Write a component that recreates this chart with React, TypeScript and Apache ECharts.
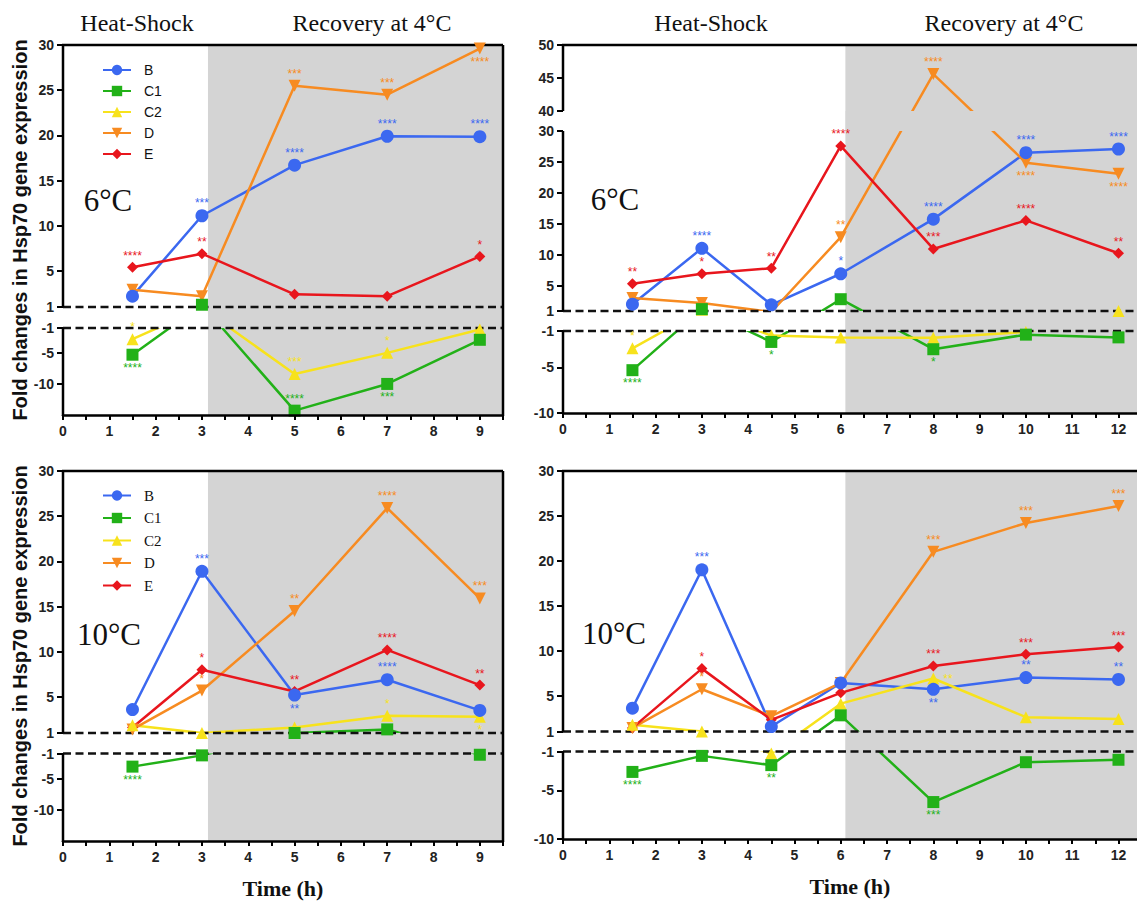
import React, { useEffect, useRef } from 'react';
import * as echarts from 'echarts';

// ---------------- data ----------------
const seriesNames = ['B', 'C1', 'C2', 'D', 'E'];
const colors: Record<string, string> = { B: '#3b68f0', C1: '#22b118', C2: '#f7e21c', D: '#f78b21', E: '#e8161d' };
const symbols: Record<string, string> = { B: 'circle', C1: 'rect', C2: 'triangle', D: 'triangle', E: 'diamond' };
const rotations: Record<string, number> = { B: 0, C1: 0, C2: 0, D: 180, E: 0 };
const symSizes: Record<string, number> = { B: 13, C1: 12, C2: 12, D: 12, E: 11 };

const timesA = [1.5, 3, 5, 7, 9];
const timesB = [1.5, 3, 4.5, 6, 8, 10, 12];

const xLabelsA = [0, 1, 2, 3, 4, 5, 6, 7, 8, 9];
const xTicksA = [0, 0.5, 1, 1.5, 2, 2.5, 3, 3.5, 4, 4.5, 5, 5.5, 6, 6.5, 7, 7.5, 8, 8.5, 9, 9.5];
const xLabelsB = [0, 1, 2, 3, 4, 5, 6, 7, 8, 9, 10, 11, 12];
const xTicksB = [0, 0.5, 1, 1.5, 2, 2.5, 3, 3.5, 4, 4.5, 5, 5.5, 6, 6.5, 7, 7.5, 8, 8.5, 9, 9.5, 10, 10.5, 11, 11.5, 12];

const yTicksA = [-10, -5, -1, 1, 5, 10, 15, 20, 25, 30];
const yTicksTR = [-10, -5, -1, 1, 5, 10, 15, 20, 25, 30, 40, 45, 50];

// 6°C, heat shock 3 h
const tlB = [2.2, 11.1, 16.7, 19.9, 19.85];
const tlC1 = [-5.3, 1.25, -14.3, -10.0, -2.9];
const tlC2 = [-2.8, 0.9, -8.4, -5.0, -1.25];
const tlD = [2.9, 2.2, 25.5, 24.5, 29.6];
const tlE = [5.4, 6.9, 2.4, 2.2, 6.6];
const tlStarsB = ['', '***', '****', '****', '****'];
const tlStarsC1 = ['v****', '', '****', 'v***', ''];
const tlStarsC2 = ['*', '', '***', '*', ''];
const tlStarsD = ['', '', '***', '***', 'v****'];
const tlStarsE = ['****', '**', '', '', '*'];

// 6°C, heat shock 6 h
const trB = [2.1, 11.1, 2.0, 7.0, 15.8, 26.5, 27.1];
const trC1 = [-5.3, 1.3, -2.2, 2.9, -3.0, -1.4, -1.7];
const trC2 = [-2.9, 1.2, -1.5, -1.7, -1.75, -1.1, 1.0];
const trD = [3.1, 2.3, 0.9, 12.9, 45.6, 24.9, 23.1];
const trE = [5.4, 7.0, 7.9, 27.6, 11.0, 15.6, 10.3];
const trStarsB = ['', '****', '', '*', '****', '****', '****'];
const trStarsC1 = ['v****', '', 'v*', '', 'v*', '', ''];
const trStarsC2 = ['*', '', '', '', '', '', ''];
const trStarsD = ['', '', '', '**', '****', 'v****', 'v****'];
const trStarsE = ['**', '*', '**', '****', '***', '****', '**'];

// 10°C, heat shock 3 h
const blB = [3.6, 18.9, 5.2, 6.9, 3.5];
const blC1 = [-3.1, -1.3, 1.0, 1.4, -1.2];
const blC2 = [1.85, 1.0, 1.6, 2.9, 2.8];
const blD = [1.4, 5.7, 14.5, 25.9, 15.9];
const blE = [1.6, 8.0, 5.6, 10.2, 6.3];
const blStarsB = ['', '***', 'v**', '****', ''];
const blStarsC1 = ['v****', '', '', '', ''];
const blStarsC2 = ['', '', '', '*', 'v*'];
const blStarsD = ['', '*', '**', '****', '***'];
const blStarsE = ['', '*', '**', '****', '**'];

// 10°C, heat shock 6 h
const brB = [3.6, 19.0, 1.55, 6.4, 5.7, 7.0, 6.8];
const brC1 = [-3.1, -1.45, -2.4, 2.8, -6.2, -2.1, -1.85];
const brC2 = [1.75, 1.0, -1.2, 4.1, 6.9, 2.6, 2.4];
const brD = [1.4, 5.7, 2.7, 6.4, 21.0, 24.2, 26.1];
const brE = [1.4, 8.0, 2.3, 5.3, 8.3, 9.6, 10.4];
const brStarsB = ['', '***', '', '', 'v**', '**', '**'];
const brStarsC1 = ['v****', '', 'v**', '', 'v***', '', ''];
const brStarsC2 = ['', '', '', '', 'r**', '', ''];
const brStarsD = ['', '*', '', '', '***', '***', '***'];
const brStarsE = ['', '*', '', '', '***', '***', '***'];

// broken-axis scale definitions: [valueFrom, valueTo, axisFrom, axisTo]
const segsTL = [[-15, -1, 0, 87], [1, 30, 108, 370]];
const segsTR = [[-10, -1, 0, 82], [1, 30, 102, 282], [40, 50, 302, 368]];
const segsBL = [[-15, -1, 0, 87.5], [1, 30, 108, 370]];
const segsBR = [[-10, -1, 0, 87.5], [1, 30, 107.5, 368]];

function toD(v: number, segs: number[][]): number {
  for (let i = 0; i < segs.length; i++) {
    const [v0, v1, d0, d1] = segs[i];
    if (v >= v0 && v <= v1) return d0 + ((v - v0) * (d1 - d0)) / (v1 - v0);
    if (i + 1 < segs.length) {
      const [w0, , e0] = segs[i + 1];
      if (v > v1 && v < w0) return d1 + ((v - v1) * (e0 - d1)) / (w0 - v1);
    }
  }
  return v < segs[0][0] ? segs[0][2] : segs[segs.length - 1][3];
}

const SANS = '"Liberation Sans", Arial, sans-serif';
const SERIF = '"Liberation Serif", "Times New Roman", serif';

const panels = [
  {
    grid: { left: 63, top: 45, width: 440, height: 370 }, xMax: 9.5, xLabels: xLabelsA, xTicks: xTicksA,
    segs: segsTL, yTicks: yTicksA, shade: 3.13, times: timesA, rightBorder: true, yName: true, xName: false,
    values: { B: tlB, C1: tlC1, C2: tlC2, D: tlD, E: tlE } as Record<string, number[]>,
    stars: { B: tlStarsB, C1: tlStarsC1, C2: tlStarsC2, D: tlStarsD, E: tlStarsE } as Record<string, string[]>,
  },
  {
    grid: { left: 563, top: 45, width: 574, height: 368 }, xMax: 12.4, xLabels: xLabelsB, xTicks: xTicksB,
    segs: segsTR, yTicks: yTicksTR, shade: 6.1, times: timesB, rightBorder: false, yName: false, xName: false,
    values: { B: trB, C1: trC1, C2: trC2, D: trD, E: trE } as Record<string, number[]>,
    stars: { B: trStarsB, C1: trStarsC1, C2: trStarsC2, D: trStarsD, E: trStarsE } as Record<string, string[]>,
  },
  {
    grid: { left: 63, top: 471, width: 440, height: 370 }, xMax: 9.5, xLabels: xLabelsA, xTicks: xTicksA,
    segs: segsBL, yTicks: yTicksA, shade: 3.13, times: timesA, rightBorder: true, yName: true, xName: true,
    values: { B: blB, C1: blC1, C2: blC2, D: blD, E: blE } as Record<string, number[]>,
    stars: { B: blStarsB, C1: blStarsC1, C2: blStarsC2, D: blStarsD, E: blStarsE } as Record<string, string[]>,
  },
  {
    grid: { left: 563, top: 471, width: 574, height: 368 }, xMax: 12.4, xLabels: xLabelsB, xTicks: xTicksB,
    segs: segsBR, yTicks: yTicksA, shade: 6.1, times: timesB, rightBorder: false, yName: false, xName: true,
    values: { B: brB, C1: brC1, C2: brC2, D: brD, E: brE } as Record<string, number[]>,
    stars: { B: brStarsB, C1: brStarsC1, C2: brStarsC2, D: brStarsD, E: brStarsE } as Record<string, string[]>,
  },
];

const GRAY = '#d4d4d4';
const FRAME_W = 2.5;

function buildOption() {
  const grids: any[] = [];
  const xAxes: any[] = [];
  const yAxes: any[] = [];
  const series: any[] = [];

  panels.forEach((p, i) => {
    const top = p.segs[p.segs.length - 1][3];
    grids.push({ ...p.grid, containLabel: false });
    xAxes.push({
      gridIndex: i, type: 'value', min: 0, max: p.xMax, z: 6,
      axisLine: { show: true, onZero: false, lineStyle: { color: '#000', width: FRAME_W } },
      axisTick: { show: true, customValues: p.xTicks, length: 5, lineStyle: { color: '#000', width: 2 } },
      axisLabel: { customValues: p.xLabels, fontSize: 14, fontWeight: 'bold', color: '#222', margin: 9, fontFamily: SANS },
      splitLine: { show: false },
      name: p.xName ? 'Time (h)' : '', nameLocation: 'middle', nameGap: 36,
      nameTextStyle: { fontFamily: SERIF, fontWeight: 'bold', fontSize: 22, color: '#111' },
    });
    const tickD = p.yTicks.map((t) => toD(t, p.segs));
    yAxes.push({
      gridIndex: i, type: 'value', min: 0, max: top, z: 6,
      axisLine: { show: false, onZero: false },
      axisTick: { show: true, customValues: tickD, length: 6, lineStyle: { color: '#000', width: 2 } },
      axisLabel: {
        customValues: tickD, fontSize: 14, fontWeight: 'bold', color: '#222', margin: 9, fontFamily: SANS,
        formatter: (val: number) => {
          const t = p.yTicks.find((tt) => Math.abs(toD(tt, p.segs) - val) < 0.01);
          return t === undefined ? '' : String(t);
        },
      },
      splitLine: { show: false },
      name: p.yName ? 'Fold changes in Hsp70 gene expression' : '', nameLocation: 'middle', nameGap: 31,
      nameTextStyle: { fontFamily: SANS, fontWeight: 'bold', fontSize: 20, color: '#111' },
    });

    // background shading
    series.push({
      type: 'custom', xAxisIndex: i, yAxisIndex: i, z: 1, silent: true, data: [[0, 0]],
      renderItem: (_params: any, api: any) => {
        const a = api.coord([p.shade, top]);
        const b = api.coord([p.xMax, 0]);
        return { type: 'rect', shape: { x: a[0], y: a[1], width: b[0] - a[0], height: b[1] - a[1] }, style: { fill: GRAY } };
      },
    });

    // lines
    seriesNames.forEach((n) => {
      series.push({
        type: 'line', name: n, xAxisIndex: i, yAxisIndex: i, z: 2, silent: true,
        symbol: symbols[n], symbolRotate: rotations[n], symbolSize: symSizes[n], showSymbol: false,
        lineStyle: { color: colors[n], width: 2.5 }, itemStyle: { color: colors[n] },
        data: p.times.map((t, j) => [t, toD(p.values[n][j], p.segs)]),
      });
    });

    // overlay: masks for axis breaks, dashed lines, frame
    series.push({
      type: 'custom', xAxisIndex: i, yAxisIndex: i, z: 3, silent: true, data: [[0, 0]],
      renderItem: (_params: any, api: any) => {
        const X = (x: number) => api.coord([x, 0])[0];
        const Y = (d: number) => api.coord([0, d])[1];
        const x0 = X(0), xs = X(p.shade), x1 = X(p.xMax);
        const ch: any[] = [];
        for (let k = 0; k + 1 < p.segs.length; k++) {
          const yA = Y(p.segs[k + 1][2]);
          const yB = Y(p.segs[k][3]);
          ch.push({ type: 'rect', shape: { x: x0, y: yA, width: xs - x0, height: yB - yA }, style: { fill: '#fff' } });
          ch.push({ type: 'rect', shape: { x: xs, y: yA, width: x1 - xs, height: yB - yA }, style: { fill: GRAY } });
        }
        [1, -1].forEach((v) => {
          const y = Y(toD(v, p.segs));
          ch.push({ type: 'line', shape: { x1: x0, y1: y, x2: x1, y2: y }, style: { stroke: '#111', lineWidth: 2.5, lineDash: [8, 4.5] } });
        });
        p.segs.forEach((s) => {
          ch.push({ type: 'line', shape: { x1: x0, y1: Y(s[2]) + (s[2] === 0 ? 1 : 0), x2: x0, y2: Y(s[3]) - (s[3] === top ? 1 : 0) }, style: { stroke: '#000', lineWidth: FRAME_W } });
        });
        ch.push({ type: 'line', shape: { x1: x0 - 1, y1: Y(top), x2: x1, y2: Y(top) }, style: { stroke: '#000', lineWidth: FRAME_W } });
        if (p.rightBorder) {
          ch.push({ type: 'line', shape: { x1: x1, y1: Y(top), x2: x1, y2: Y(0) }, style: { stroke: '#000', lineWidth: FRAME_W } });
        }
        return { type: 'group', children: ch };
      },
    });

    // markers with significance stars (later series drawn first)
    [...seriesNames].reverse().forEach((n) => {
      series.push({
        type: 'scatter', name: n + ' points', xAxisIndex: i, yAxisIndex: i, z: 4, silent: true,
        symbol: symbols[n], symbolRotate: rotations[n], symbolSize: symSizes[n],
        itemStyle: { color: colors[n], opacity: 1 },
        data: p.times.map((t, j) => {
          const v = p.values[n][j];
          const item: any = { value: [t, toD(v, p.segs)] };
          if (v > -1 && v < 1) item.symbol = 'none';
          const s = p.stars[n][j];
          if (s) {
            let pos = 'top';
            let txt = s;
            if (s[0] === 'v') { pos = 'bottom'; txt = s.slice(1); }
            else if (s[0] === 'r') { pos = 'right'; txt = s.slice(1); }
            item.label = {
              show: true, formatter: txt, position: pos, distance: pos === 'bottom' ? 1 : pos === 'right' ? 4 : 0,
              color: colors[n], fontSize: 12, fontFamily: SANS,
            };
          }
          return item;
        }),
      });
    });
  });

  const graphicTexts = [
    { t: 'Heat-Shock', x: 137, y: 23, size: 24 },
    { t: 'Recovery at 4°C', x: 372, y: 23, size: 24 },
    { t: 'Heat-Shock', x: 711, y: 23, size: 24 },
    { t: 'Recovery at 4°C', x: 1004, y: 23, size: 24 },
    { t: '6°C', x: 108, y: 200, size: 31 },
    { t: '6°C', x: 615, y: 199, size: 31 },
    { t: '10°C', x: 109, y: 634, size: 31 },
    { t: '10°C', x: 614, y: 633, size: 31 },
  ];

  return {
    animation: false,
    backgroundColor: '#fff',
    textStyle: { fontFamily: SANS },
    grid: grids,
    xAxis: xAxes,
    yAxis: yAxes,
    legend: [
      {
        data: seriesNames, orient: 'vertical', left: 97, top: 58, itemWidth: 28, itemHeight: 13, itemGap: 7,
        textStyle: { fontFamily: SANS, fontSize: 14, color: '#111', padding: [0, 0, 0, 8] }, selectedMode: false,
      },
      {
        data: seriesNames, orient: 'vertical', left: 97, top: 483, itemWidth: 28, itemHeight: 13, itemGap: 7.5,
        textStyle: { fontFamily: SERIF, fontSize: 15, color: '#111', padding: [0, 0, 0, 8] }, selectedMode: false,
      },
    ],
    graphic: graphicTexts.map((g) => ({
      type: 'text', x: g.x, y: g.y, z: 10,
      style: { text: g.t, fill: '#111', fontSize: g.size, fontFamily: SERIF, textAlign: 'center', textVerticalAlign: 'middle' },
    })),
    series,
  };
}

export default function App() {
  const ref = useRef<HTMLDivElement>(null);
  useEffect(() => {
    if (!ref.current) return;
    const chart = echarts.init(ref.current, undefined, { renderer: 'svg' });
    chart.setOption(buildOption() as any);
    return () => chart.dispose();
  }, []);
  return <div ref={ref} style={{ position: 'absolute', left: 0, top: 0, width: 1137, height: 904, background: '#fff' }} />;
}
